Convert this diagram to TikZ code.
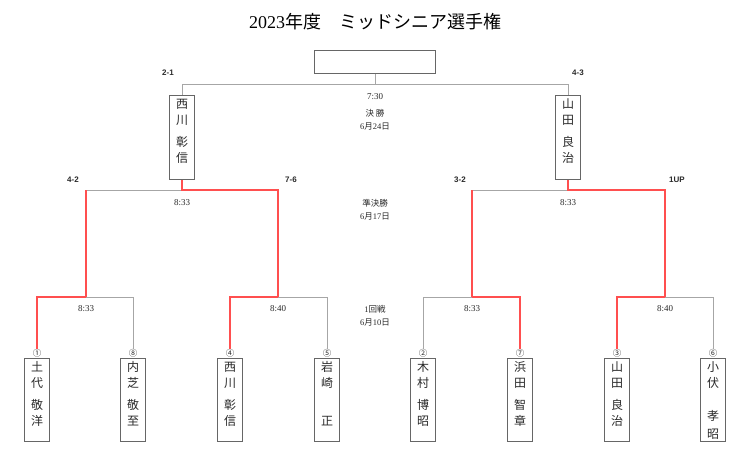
\documentclass[tikz,border=0pt]{standalone}
\usepackage{fontspec}
\setmainfont{Liberation Serif}
\setsansfont{Liberation Sans}
\newfontfamily\jp{Noto Sans CJK JP}
\definecolor{lgrey}{HTML}{A6A6A6}
\definecolor{bgrey}{HTML}{666666}
\definecolor{wred}{HTML}{FF4F4F}
\definecolor{txt}{HTML}{2A2A2A}
\tikzset{
  lose/.style={draw=lgrey, line width=0.9pt},
  win/.style={draw=wred, line width=1.3pt},
  namebox/.style={draw=bgrey, line width=1pt, minimum width=25pt, minimum height=83pt, inner sep=0pt},
  nametext/.style={anchor=north, inner sep=0pt, align=center, text=txt, font=\jp\fontsize{12}{16}\selectfont},
  seed/.style={inner sep=0pt, text=txt, font=\jp\fontsize{8.5}{8.5}\selectfont},
  score/.style={inner sep=0pt, text=txt, font=\sffamily\bfseries\fontsize{8}{8}\selectfont},
  time/.style={inner sep=0pt, text=txt, font=\fontsize{9}{9}\selectfont},
  rnd/.style={inner sep=0pt, text=txt, font=\jp\fontsize{8.5}{8.5}\selectfont},
}
\begin{document}
\begin{tikzpicture}[x=1pt,y=-1pt]
\useasboundingbox[fill=white] (0,0) rectangle (750,458);
% title
\node[inner sep=0pt, text=black, font=\fontsize{18}{18}\selectfont] (title) at (375,22) {2023{\jp 年度　ミッドシニア選手権}};
% champion box
\node[draw=bgrey, line width=1pt, minimum width=121pt, minimum height=23pt, inner sep=0pt] (champ) at (375,61.5) {};
% joints
\coordinate (F) at (375,84);
\coordinate (S1) at (182,190);
\coordinate (S2) at (568,190);
\coordinate (R1) at (86,297);
\coordinate (R2) at (278,297);
\coordinate (R3) at (472,297);
\coordinate (R4) at (665,297);
% finalists
\node[namebox, minimum height=84pt] (W1) at (182,137) {};
\node[nametext] (W1n) at (W1.north) [yshift=-4pt] {西\\川\\[6pt]彰\\信};
\node[namebox, minimum height=84pt] (W2) at (568,137) {};
\node[nametext] (W2n) at (W2.north) [yshift=-4pt] {山\\田\\[6pt]良\\治};
% players
\foreach \id/\x/\sd in {p1/37/①, p8/133/⑧, p4/230/④, p5/327/⑤, p2/423/②, p7/520/⑦, p3/617/③, p6/713/⑥}{
  \node[namebox] (\id) at (\x,399.5) {};
  \node[seed] (s\id) at (\x,353) {\sd};
}
\node[nametext] (p1n) at (p1.north) [yshift=-4pt] {土\\代\\[6pt]敬\\洋};
\node[nametext] (p8n) at (p8.north) [yshift=-4pt] {内\\芝\\[6pt]敬\\至};
\node[nametext] (p4n) at (p4.north) [yshift=-4pt] {西\\川\\[6pt]彰\\信};
\node[nametext] (p5n) at (p5.north) [yshift=-4pt] {岩\\崎\\[6pt]\mbox{}\\正};
\node[nametext] (p2n) at (p2.north) [yshift=-4pt] {木\\村\\[6pt]博\\昭};
\node[nametext] (p7n) at (p7.north) [yshift=-4pt] {浜\\田\\[6pt]智\\章};
\node[nametext] (p3n) at (p3.north) [yshift=-4pt] {山\\田\\[6pt]良\\治};
\node[nametext] (p6n) at (p6.north) [yshift=-4pt] {小\\伏\\[17pt]孝\\[2pt]昭};
% final
\draw[lose] (champ.south) -- (F);
\draw[lose] (F) -| (W1.north);
\draw[lose] (F) -| (W2.north);
% semifinals
\draw[lose] (S1) -- (R1|-S1);
\draw[win] (W1.south) -- (S1) -| (R2);
\draw[win] (R1) -- (R1|-S1);
\draw[lose] (S2) -- (R3|-S2);
\draw[win] (W2.south) -- (S2) -| (R4);
\draw[win] (R3) -- (R3|-S2);
% round 1
\draw[lose] (R1) -| (sp8.north);
\draw[win] (R1) -| (sp1.north);
\draw[lose] (R2) -| (sp5.north);
\draw[win] (R2) -| (sp4.north);
\draw[lose] (R3) -| (sp2.north);
\draw[win] (R3) -| (sp7.north);
\draw[lose] (R4) -| (sp6.north);
\draw[win] (R4) -| (sp3.north);
% scores
\node[score] (sc1) at (168,73) {2-1};
\node[score] (sc2) at (578,73) {4-3};
\node[score] (sc3) at (73,180) {4-2};
\node[score] (sc4) at (291,180) {7-6};
\node[score] (sc5) at (460,180) {3-2};
\node[score] (sc6) at (677,180) {1UP};
% times
\node[time] (t0) at (375,97) {7:30};
\node[time] (t1) at (182,202.5) {8:33};
\node[time] (t2) at (568,202.5) {8:33};
\node[time] (t3) at (86,309) {8:33};
\node[time] (t4) at (278,309) {8:40};
\node[time] (t5) at (472,309) {8:33};
\node[time] (t6) at (665,309) {8:40};
% round labels
\node[rnd] (r0a) at (375,113) {決 勝};
\node[rnd] (r0b) at (375,126.5) {{\rmfamily 6}月{\rmfamily 24}日};
\node[rnd] (r1a) at (375,203) {準決勝};
\node[rnd] (r1b) at (375,216) {{\rmfamily 6}月{\rmfamily 17}日};
\node[rnd] (r2a) at (375,309) {{\rmfamily 1}回戦};
\node[rnd] (r2b) at (375,322) {{\rmfamily 6}月{\rmfamily 10}日};
\end{tikzpicture}
\end{document}
